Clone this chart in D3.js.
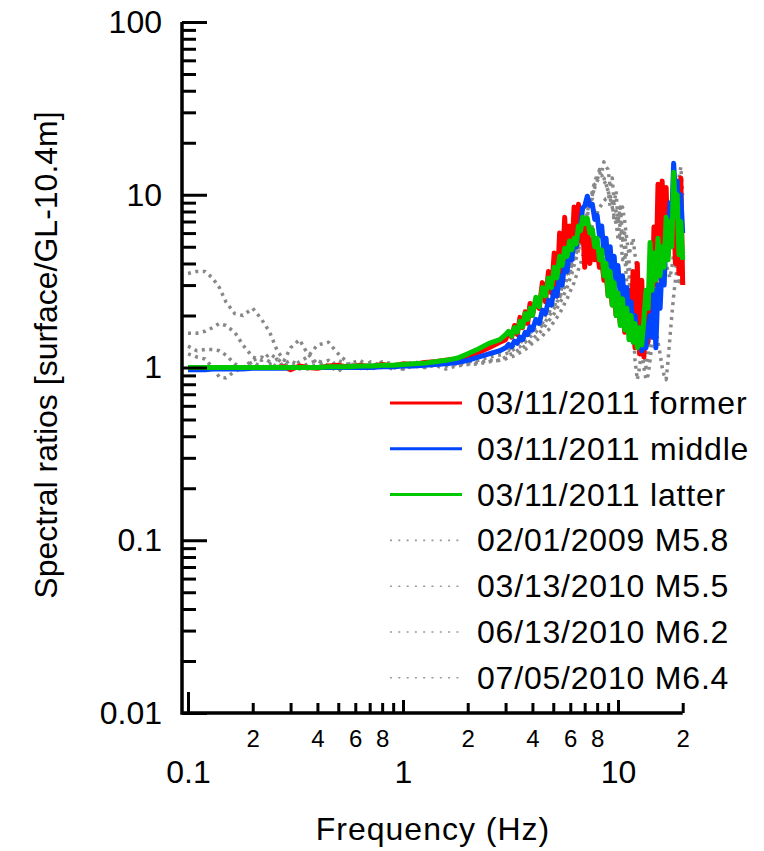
<!doctype html>
<html>
<head>
<meta charset="utf-8">
<script src="https://cdn.jsdelivr.net/npm/d3@7"></script>
<style>
body { margin: 0; background: #fff; }
svg { display: block; font-family: "Liberation Sans", Arial, sans-serif; }
</style>
</head>
<body>
<svg width="764" height="851"></svg>
<script>

// frequencies (Hz), shared by every series
var freq = [0.1, 0.11, 0.12, 0.13, 0.14, 0.15, 0.165, 0.18, 0.2, 0.22,
            0.24, 0.26, 0.28, 0.3, 0.33, 0.36, 0.4, 0.45, 0.5, 0.56,
            0.63, 0.71, 0.8, 0.9, 1.0, 1.12, 1.26, 1.41, 1.58, 1.78,
            2.0, 2.24, 2.51, 2.82,
            3.0, 3.1, 3.2, 3.3, 3.4, 3.5, 3.6, 3.7, 3.8, 3.9,
            4.0, 4.15, 4.3, 4.45, 4.6, 4.75, 4.9,
            5.05, 5.2, 5.35, 5.5, 5.65, 5.8, 5.95,
            6.1, 6.25, 6.4, 6.55, 6.7, 6.85,
            7.0, 7.2, 7.4, 7.6, 7.8,
            8.0, 8.2, 8.4, 8.6, 8.8,
            9.0, 9.2, 9.4, 9.6, 9.8,
            10.0, 10.25, 10.5, 10.75,
            11.0, 11.25, 11.5, 11.75,
            12.0, 12.3, 12.6, 12.9,
            13.2, 13.5, 13.8, 14.1, 14.4, 14.7,
            15.0, 15.35, 15.7, 16.05, 16.4, 16.75,
            17.1, 17.45, 17.8, 18.15, 18.5, 18.85,
            19.2, 19.6, 20.0];

var former = [1.0, 1.0, 1.0, 1.0, 1.0, 1.0, 0.99, 1.0, 1.0, 1.0,
              1.0, 1.0, 1.01, 0.97, 1.02, 1.0, 0.99, 1.02, 1.03, 1.0,
              1.03, 1.01, 1.04, 1.02, 1.05, 1.04, 1.07, 1.08, 1.1, 1.12,
              1.15, 1.22, 1.3, 1.4,
              1.45, 1.6, 1.5, 1.75, 1.55, 1.95, 1.7, 2.1, 1.8, 2.35,
              2.0, 2.5, 2.2, 3.1, 2.4, 3.6, 2.7,
              4.6, 2.6, 6.0, 3.4, 7.4, 4.2, 6.6,
              4.5, 8.5, 5.0, 8.8, 5.4, 7.0,
              3.8, 6.8, 4.0, 5.5, 4.2,
              4.8, 3.8, 4.2, 3.2, 3.5,
              2.6, 3.0, 2.3, 2.6, 2.0,
              2.3, 1.8, 2.1, 1.6,
              1.9, 2.8, 1.5, 3.6,
              1.3, 4.0, 1.2, 3.2,
              1.15, 2.2, 1.4, 3.0, 2.0, 6.5,
              3.0, 11.5, 4.5, 12.0, 5.5, 11.0,
              4.5, 8.5, 5.0, 9.0, 4.0, 11.0,
              3.5, 12.5, 3.0];

var middle = [0.97, 0.97, 0.97, 0.98, 0.98, 0.98, 0.98, 0.98, 0.99, 0.99,
              0.99, 0.99, 0.99, 1.0, 1.0, 1.0, 1.0, 1.0, 1.0, 1.0,
              1.0, 1.0, 1.01, 1.01, 1.02, 1.02, 1.03, 1.04, 1.05, 1.07,
              1.1, 1.15, 1.2, 1.25,
              1.3, 1.36, 1.32, 1.42, 1.38, 1.5, 1.45, 1.6, 1.55, 1.72,
              1.65, 1.9, 1.8, 2.15, 2.05, 2.45, 2.3,
              2.85, 2.6, 3.4, 3.0, 4.0, 3.6, 4.7,
              4.2, 5.5, 5.0, 6.5, 6.6, 8.4,
              8.6, 9.8, 8.7, 8.8, 7.2,
              7.6, 5.8, 6.6, 4.6, 5.6,
              3.9, 5.0, 3.4, 4.4, 3.0,
              3.9, 2.6, 3.4, 2.2,
              2.9, 1.9, 2.4, 1.6,
              2.0, 1.4, 1.7, 1.25,
              1.45, 1.3, 1.7, 2.0, 1.5, 2.8,
              1.3, 3.0, 2.2, 4.0, 3.0, 6.0,
              5.0, 9.0, 7.5, 15.2, 10.0, 12.0,
              7.0, 10.0, 6.0];

var latter = [1.0, 1.0, 1.0, 1.0, 1.0, 1.0, 1.0, 1.0, 1.0, 1.0,
              1.0, 1.0, 1.0, 1.0, 1.0, 1.0, 1.0, 1.01, 1.01, 1.01,
              1.02, 1.02, 1.03, 1.03, 1.04, 1.05, 1.06, 1.08, 1.1, 1.13,
              1.2, 1.28, 1.38, 1.45,
              1.55, 1.62, 1.52, 1.7, 1.6, 1.85, 1.72, 2.05, 1.9, 2.2,
              2.0, 2.55, 2.25, 2.9, 2.6, 3.3, 2.9,
              3.8, 3.3, 4.4, 3.9, 4.9, 4.4, 5.4,
              4.8, 5.6, 5.2, 6.6, 6.2, 7.4,
              6.8, 7.3, 6.0, 6.3, 5.0,
              5.6, 4.2, 4.8, 3.4, 4.0,
              2.6, 3.6, 2.3, 3.1, 2.0,
              2.7, 1.75, 2.5, 1.65,
              2.2, 1.45, 2.0, 1.4,
              1.8, 1.3, 1.7, 1.35,
              1.9, 2.8, 2.2, 5.3, 2.8, 4.6,
              3.2, 5.6, 3.4, 5.0, 3.8, 7.4,
              4.2, 7.0, 5.0, 13.5, 7.5, 10.0,
              4.5, 7.0, 4.2];

var eq20090201 = [3.5, 3.6, 3.6, 3.3, 2.9, 2.4, 2.05, 2.0, 2.2, 1.9,
                  1.6, 1.25, 1.1, 1.3, 1.45, 1.2, 1.05, 1.1, 1.0, 1.05,
                  1.1, 1.0, 1.08, 1.05, 1.02, 1.08, 1.05, 1.1, 1.07, 1.12,
                  1.1, 1.15, 1.2, 1.25,
                  1.3, 1.25, 1.35, 1.3, 1.4, 1.35, 1.5, 1.45, 1.6, 1.55,
                  1.7, 1.65, 1.85, 1.8, 2.0, 2.0, 2.3,
                  2.2, 2.6, 2.5, 3.0, 2.9, 3.5, 3.4,
                  4.0, 4.0, 4.8, 4.7, 5.6, 5.6,
                  6.8, 7.5, 9.0, 9.5, 11.5,
                  12.0, 14.0, 13.5, 15.5, 14.5,
                  14.0, 11.0, 12.5, 9.0, 10.5,
                  7.0, 8.5, 5.5, 6.0,
                  4.0, 4.2, 2.8, 3.0,
                  1.8, 1.9, 1.3, 1.2,
                  1.0, 0.85, 0.9, 1.1, 1.4, 1.8,
                  2.2, 2.8, 3.5, 4.0, 5.0, 5.5,
                  6.5, 7.5, 8.0, 9.5, 10.5, 11.5,
                  12.5, 14.5, 10.0];

var eq20100313 = [1.58, 1.58, 1.62, 1.7, 1.8, 1.75, 1.6, 1.35, 1.15, 1.1,
                  1.2, 1.12, 1.05, 1.0, 1.08, 1.15, 1.35, 1.4, 1.2, 1.05,
                  1.0, 1.08, 1.02, 0.98, 1.05, 1.02, 1.06, 1.03, 1.08, 1.05,
                  1.08, 1.1, 1.15, 1.18,
                  1.2, 1.22, 1.25, 1.28, 1.3, 1.32, 1.38, 1.4, 1.45, 1.5,
                  1.55, 1.6, 1.7, 1.75, 1.85, 1.95, 2.1,
                  2.2, 2.4, 2.5, 2.8, 3.0, 3.3, 3.6,
                  3.9, 4.3, 4.6, 5.2, 5.6, 6.3,
                  7.0, 8.0, 9.0, 10.0, 11.0,
                  12.0, 12.5, 13.0, 12.0, 11.5,
                  10.5, 8.5, 9.0, 7.0, 7.5,
                  5.5, 6.0, 4.2, 4.5,
                  3.0, 3.0, 1.9, 1.8,
                  1.1, 0.85, 1.0, 1.3,
                  1.6, 2.0, 2.4, 2.6, 3.0, 3.2,
                  3.5, 3.8, 4.2, 4.5, 5.0, 5.2,
                  5.6, 6.0, 6.5, 7.0, 7.0, 6.5,
                  6.0, 5.5, 5.5];

var eq20100613 = [1.33, 1.25, 1.27, 1.27, 1.25, 1.18, 1.05, 1.0, 1.1, 1.15,
                  1.08, 1.0, 1.05, 1.1, 1.02, 0.98, 1.05, 1.0, 1.1, 1.03,
                  0.98, 1.05, 1.0, 1.04, 0.98, 1.03, 1.0, 1.05, 1.02, 1.04,
                  1.05, 1.07, 1.1, 1.1,
                  1.12, 1.14, 1.15, 1.17, 1.2, 1.22, 1.24, 1.27, 1.3, 1.34,
                  1.38, 1.42, 1.48, 1.52, 1.6, 1.65, 1.75,
                  1.85, 1.95, 2.05, 2.2, 2.35, 2.5, 2.7,
                  2.9, 3.1, 3.4, 3.7, 4.0, 4.4,
                  4.8, 5.4, 6.0, 6.6, 7.2,
                  7.8, 8.4, 8.8, 9.2, 9.5,
                  9.5, 9.8, 9.2, 8.8, 8.0,
                  7.5, 6.5, 5.5, 4.8,
                  4.0, 3.4, 2.8, 2.3,
                  2.0, 1.7, 1.5, 1.35,
                  1.3, 1.4, 1.6, 1.9, 2.2, 2.0,
                  1.7, 1.4, 1.2, 1.0, 0.9, 0.85,
                  1.1, 1.5, 2.0, 2.6, 3.2, 3.8,
                  4.2, 4.5, 4.0];

var eq20100705 = [1.2, 1.15, 1.12, 1.0, 0.88, 0.87, 0.95, 1.0, 1.08, 1.0,
                  1.05, 1.12, 1.0, 1.05, 0.98, 1.05, 1.1, 1.02, 0.95, 1.05,
                  1.02, 0.97, 1.05, 1.0, 0.98, 1.02, 1.0, 1.03, 0.98, 1.02,
                  1.04, 1.05, 1.08, 1.1,
                  1.15, 1.18, 1.2, 1.22, 1.25, 1.28, 1.3, 1.34, 1.38, 1.42,
                  1.46, 1.52, 1.58, 1.66, 1.75, 1.85, 1.95,
                  2.05, 2.2, 2.35, 2.5, 2.7, 2.9, 3.2,
                  3.5, 3.9, 4.3, 4.8, 5.3, 6.0,
                  6.8, 7.8, 9.0, 10.5, 12.0,
                  13.0, 13.5, 13.0, 12.5, 11.5,
                  10.5, 9.5, 8.5, 7.5, 6.8,
                  6.0, 6.8, 8.5, 7.0,
                  5.5, 4.5, 5.0, 5.6,
                  4.5, 3.5, 2.5, 1.8,
                  1.3, 1.0, 1.2, 1.8, 2.5, 3.2,
                  3.0, 2.6, 2.8, 3.2, 3.6, 4.0,
                  3.6, 3.3, 3.8, 4.5, 4.0, 3.5,
                  3.0, 3.5, 3.0];

var legendLabels = ["03/11/2011 former", "03/11/2011 middle", "03/11/2011 latter",
                    "02/01/2009 M5.8", "03/13/2010 M5.5", "06/13/2010 M6.2", "07/05/2010 M6.4"];

var yTicks = [0.01, 0.1, 1, 10, 100];
var yTickLabels = ["0.01", "0.1", "1", "10", "100"];
var xTicks = [0.1, 1, 10];
var xTickLabels = ["0.1", "1", "10"];
var xMinorTicks = [0.2, 0.3, 0.4, 0.5, 0.6, 0.7, 0.8, 0.9, 2, 3, 4, 5, 6, 7, 8, 9, 20];
var xMinorLabels = ["2", "", "4", "", "6", "", "8", "", "2", "", "4", "", "6", "", "8", "", "2"];

var series = [
  {name: legendLabels[0], values: former, color: "#ff0000", dotted: false},
  {name: legendLabels[1], values: middle, color: "#0046ff", dotted: false},
  {name: legendLabels[2], values: latter, color: "#00c800", dotted: false},
  {name: legendLabels[3], values: eq20090201, color: "#888888", dotted: true},
  {name: legendLabels[4], values: eq20100313, color: "#888888", dotted: true},
  {name: legendLabels[5], values: eq20100613, color: "#888888", dotted: true},
  {name: legendLabels[6], values: eq20100705, color: "#888888", dotted: true}
];

var svg = d3.select("svg");
var x = d3.scaleLog().domain([0.1, 20]).range([188, 682.7]);
var y = d3.scaleLog().domain([0.01, 100]).range([713, 22]);
var axisX = x(0.1) - 6;

var line = d3.line()
  .x(d => x(d[0]))
  .y(d => y(d[1]));

// gray first, colored on top (green last)
var drawOrder = [3, 4, 5, 6, 0, 1, 2];
svg.append("g").selectAll("path")
  .data(drawOrder.map(i => series[i]))
  .enter().append("path")
  .attr("fill", "none")
  .attr("stroke", d => d.color)
  .attr("stroke-width", d => d.dotted ? 3.5 : 5)
  .attr("stroke-dasharray", d => d.dotted ? "3 4.5" : null)
  .attr("stroke-linejoin", "round")
  .attr("d", d => line(d3.zip(freq, d.values)));

// y axis
var yMinor = [];
[0.01, 0.1, 1, 10].forEach(b => { for (var k = 2; k < 10; k++) yMinor.push(b * k); });

var gy = svg.append("g").attr("transform", "translate(" + axisX + ",0)");
gy.call(d3.axisLeft(y).tickValues(yTicks).tickFormat((d, i) => yTickLabels[i])
          .tickSizeInner(-25).tickSizeOuter(0).tickPadding(20));
gy.append("g").call(d3.axisLeft(y).tickValues(yMinor).tickFormat("")
          .tickSizeInner(-14).tickSizeOuter(0))
  .select(".domain").remove();

// x axis
var gx = svg.append("g").attr("transform", "translate(0,713)");
gx.call(d3.axisBottom(x).tickValues(xTicks).tickFormat((d, i) => xTickLabels[i])
          .tickSizeInner(-13).tickSizeOuter(0).tickPadding(47));
gx.selectAll(".tick line").attr("y2", d => d === 0.1 ? -21 : -13);
var gxm = gx.append("g").call(d3.axisBottom(x).tickValues(xMinorTicks)
          .tickFormat((d, i) => xMinorLabels[i])
          .tickSizeInner(-10).tickSizeOuter(0).tickPadding(17));
gxm.select(".domain").remove();
gxm.selectAll("text").attr("font-size", 24);

svg.selectAll(".domain").remove();
svg.append("path")
  .attr("d", d3.line()([[axisX, y(100)], [axisX, y(0.01)], [x(20), y(0.01)]]))
  .attr("fill", "none").attr("stroke", "#000").attr("stroke-width", 3.5);

svg.selectAll(".tick line").attr("stroke", "#000").attr("stroke-width", 3);
svg.selectAll(".tick text").attr("fill", "#000").attr("font-family", "'Liberation Sans', Arial, sans-serif");
gy.selectAll(":scope > .tick text").attr("font-size", 32);
gx.selectAll(":scope > .tick text").attr("font-size", 32);

// axis titles
svg.append("text")
  .attr("x", 433).attr("y", 840)
  .attr("text-anchor", "middle")
  .attr("font-size", 32).attr("letter-spacing", 1)
  .text("Frequency (Hz)");

svg.append("text")
  .attr("transform", "translate(57,355) rotate(-90)")
  .attr("text-anchor", "middle")
  .attr("font-size", 32)
  .text("Spectral ratios [surface/GL-10.4m]");

// legend
var legend = svg.append("g").selectAll("g")
  .data(series)
  .enter().append("g")
  .attr("transform", (d, i) => "translate(390," + (403 + i * 45.8) + ")");

legend.append("line")
  .attr("x1", 0).attr("x2", 72)
  .attr("stroke", d => d.dotted ? "#999" : d.color)
  .attr("stroke-width", d => d.dotted ? 1.6 : 3)
  .attr("stroke-dasharray", d => d.dotted ? "2 6.3" : null);

legend.append("text")
  .attr("x", 87).attr("y", 11)
  .attr("font-size", 32).attr("letter-spacing", 0.8)
  .text(d => d.name);

</script>
</body>
</html>
